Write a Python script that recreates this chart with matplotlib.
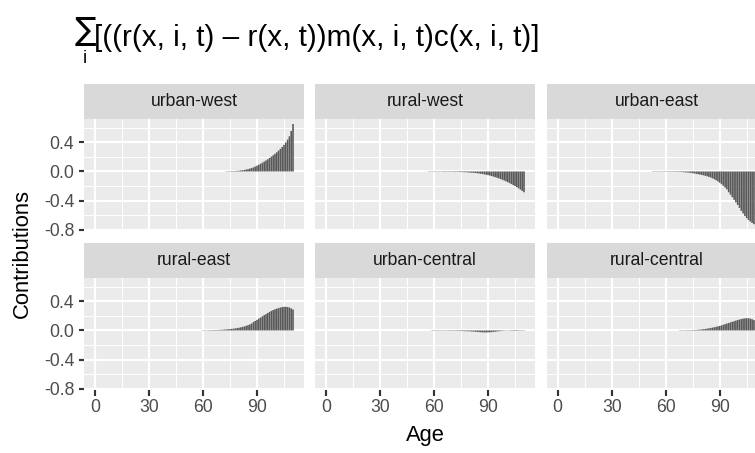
import numpy as np
import matplotlib
matplotlib.use("Agg")
import matplotlib.pyplot as plt

plt.rcParams["font.family"] = ["Liberation Sans", "DejaVu Sans"]
plt.rcParams["axes.unicode_minus"] = False

# facet labels, in wrap order
regions = ["urban-west", "rural-west", "urban-east",
           "rural-east", "urban-central", "rural-central"]

# first age with a drawn bar for each region; bars run up to age 110
start_ages = [73, 57, 53, 60, 59, 68]

uw_vals = [0.004, 0.004, 0.005, 0.005, 0.006, 0.007, 0.009, 0.011, 0.014, 0.017,
           0.021, 0.026, 0.032, 0.039, 0.047, 0.056, 0.067, 0.079, 0.092, 0.106,
           0.120, 0.135, 0.151, 0.168, 0.185, 0.203, 0.222, 0.242, 0.263, 0.286,
           0.310, 0.336, 0.365, 0.398, 0.436, 0.482, 0.555, 0.650]

rw_vals = [-0.004, -0.004, -0.004, -0.004, -0.004, -0.004, -0.004, -0.004, -0.005, -0.005,
           -0.005, -0.005, -0.005, -0.005, -0.006, -0.006, -0.006, -0.007, -0.008, -0.009,
           -0.010, -0.011, -0.013, -0.015, -0.017, -0.019, -0.021, -0.024, -0.027, -0.031,
           -0.035, -0.040, -0.045, -0.050, -0.056, -0.063, -0.070, -0.078, -0.086, -0.095,
           -0.104, -0.114, -0.124, -0.135, -0.147, -0.159, -0.172, -0.186, -0.200, -0.215,
           -0.231, -0.248, -0.266, -0.285]

ue_vals = [-0.004, -0.004, -0.004, -0.004, -0.004, -0.004, -0.004, -0.004, -0.004, -0.005,
           -0.005, -0.005, -0.005, -0.006, -0.006, -0.007, -0.008, -0.010, -0.012, -0.014,
           -0.017, -0.020, -0.024, -0.028, -0.032, -0.037, -0.042, -0.047, -0.053, -0.059,
           -0.066, -0.074, -0.083, -0.094, -0.106, -0.120, -0.136, -0.154, -0.174, -0.196,
           -0.220, -0.246, -0.285, -0.318, -0.352, -0.388, -0.424, -0.460, -0.500, -0.540,
           -0.575, -0.610, -0.640, -0.665, -0.687, -0.705, -0.722, -0.740]

re_vals = [0.004, 0.004, 0.004, 0.004, 0.005, 0.005, 0.006, 0.006, 0.007, 0.008,
           0.010, 0.011, 0.013, 0.015, 0.017, 0.019, 0.022, 0.025, 0.029, 0.033,
           0.038, 0.043, 0.049, 0.056, 0.064, 0.073, 0.083, 0.094, 0.115, 0.130,
           0.146, 0.162, 0.178, 0.194, 0.210, 0.225, 0.240, 0.255, 0.268, 0.280,
           0.291, 0.299, 0.307, 0.315, 0.321, 0.324, 0.324, 0.321, 0.315, 0.302,
           0.288]

uc_vals = [-0.004, -0.004, -0.004, -0.004, -0.004, -0.004, -0.004, -0.004, -0.004, -0.004,
           -0.005, -0.005, -0.005, -0.005, -0.006, -0.006, -0.007, -0.008, -0.009, -0.010,
           -0.011, -0.012, -0.014, -0.016, -0.018, -0.020, -0.022, -0.024, -0.026, -0.027,
           -0.027, -0.026, -0.025, -0.023, -0.020, -0.017, -0.014, -0.011, -0.008, -0.006,
           -0.004, -0.003, 0.003, 0.004, 0.005, 0.006, 0.007, 0.007, 0.005, 0.004,
           -0.004, -0.004]

rc_vals = [0.004, 0.004, 0.004, 0.004, 0.005, 0.005, 0.005, 0.006, 0.007, 0.008,
           0.010, 0.012, 0.015, 0.018, 0.021, 0.025, 0.029, 0.034, 0.039, 0.044,
           0.050, 0.056, 0.062, 0.070, 0.078, 0.086, 0.095, 0.103, 0.111, 0.119,
           0.127, 0.135, 0.143, 0.150, 0.157, 0.162, 0.166, 0.168, 0.167, 0.162,
           0.154, 0.142, 0.128]

series = [uw_vals, rw_vals, ue_vals, re_vals, uc_vals, rc_vals]

x_ticks = [0, 30, 60, 90]
y_ticks = [-0.8, -0.4, 0.0, 0.4]

W, H = 755, 453
DPI = 144
fig = plt.figure(figsize=(W / DPI, H / DPI), dpi=DPI)


def rect(left, top, width, height):
    return [left / W, 1 - (top + height) / H, width / W, height / H]


# ggplot-like limits: data range plus 5% on each side
all_vals = np.concatenate([np.array(v) for v in series])
ymin, ymax = all_vals.min(), all_vals.max()
yexp = 0.05 * (ymax - ymin)
xlo, xhi = -0.45, 110.45
xexp = 0.05 * (xhi - xlo)

col_left = [84.2, 315.2, 546.9]
panel_w = 219.6
strip_top = [83.5, 242.5]
strip_h = 35.5
panel_h = 111.5

for k, (name, vals, a0) in enumerate(zip(regions, series, start_ages)):
    r, c = divmod(k, 3)
    ptop = strip_top[r] + strip_h
    ax = fig.add_axes(rect(col_left[c], ptop, panel_w, panel_h))
    ax.set_facecolor("#EBEBEB")
    ages = np.arange(a0, a0 + len(vals))
    ax.bar(ages, vals, width=0.9, color="#595959", linewidth=0, zorder=3,
           snap=False)
    ax.set_xlim(xlo - xexp, xhi + xexp)
    ax.set_ylim(ymin - yexp, ymax + yexp)
    ax.set_xticks(x_ticks)
    ax.set_xticks([15, 45, 75, 105], minor=True)
    ax.set_yticks(y_ticks)
    ax.set_yticks([-0.6, -0.2, 0.2, 0.6], minor=True)
    ax.set_yticklabels([f"{v:.1f}" for v in y_ticks])
    ax.grid(which="major", color="white", linewidth=1.07, zorder=1)
    ax.grid(which="minor", color="white", linewidth=0.53, zorder=1)
    ax.set_axisbelow(True)
    for s in ax.spines.values():
        s.set_visible(False)
    ax.tick_params(which="minor", length=0)
    ax.tick_params(which="major", length=2.75, width=1.07, color="#333333",
                   labelcolor="#4D4D4D", labelsize=8.8, pad=2.2)
    ax.tick_params(left=(c == 0), labelleft=(c == 0),
                   bottom=(r == 1), labelbottom=(r == 1))

    sax = fig.add_axes(rect(col_left[c], strip_top[r], panel_w, strip_h))
    sax.set_facecolor("#D9D9D9")
    sax.set_xticks([])
    sax.set_yticks([])
    for s in sax.spines.values():
        s.set_visible(False)
    sax.text(0.5, 0.5, name, ha="center", va="center", fontsize=8.8,
             color="#1A1A1A", transform=sax.transAxes)

fig.text(22 / W, 1 - 254 / H, "Contributions", rotation=90, ha="center",
         va="center", fontsize=11, color="black")
fig.text(425 / W, 1 - 440.5 / H, "Age", ha="center", va="baseline",
         fontsize=11, color="black")

# title: sum sign with subscript i under it, then the summand
fig.text(85 / W, 1 - 40 / H, "\u2211", ha="center", va="baseline",
         fontsize=16, color="black", family="DejaVu Sans")
fig.text(85 / W, 1 - 63 / H, "i", ha="center", va="baseline",
         fontsize=9.5, color="black")
fig.text(94 / W, 1 - 46 / H,
         "[((r(x, i, t) \u2013 r(x, t))m(x, i, t)c(x, i, t)]",
         ha="left", va="baseline", fontsize=14.8, color="black")

fig.savefig("out.png", dpi=DPI)
